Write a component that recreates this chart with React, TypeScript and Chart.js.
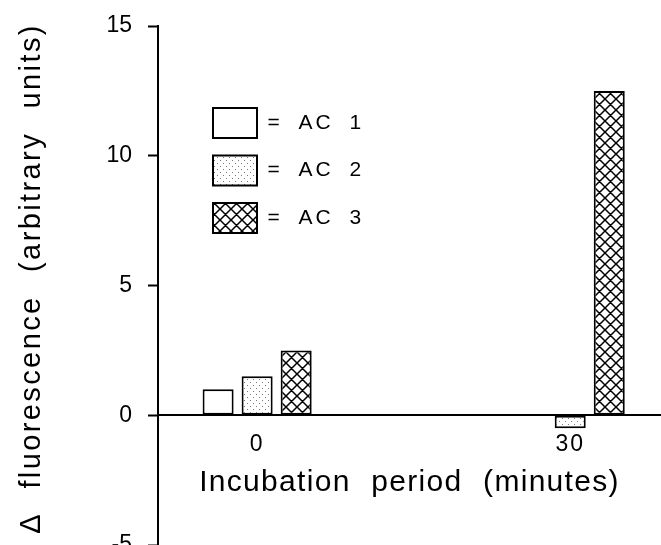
import React, { useEffect, useRef } from 'react';
import { Chart, registerables } from 'chart.js';

Chart.register(...registerables);

// ---- data ----
const categories = [0, 30];
const categoryLabels = ['0', '30'];
const seriesNames = ['AC 1', 'AC 2', 'AC 3'];
const ac1 = [1.0, 0];
const ac2 = [1.5, -0.5];
const ac3 = [2.5, 12.5];
const yTicks = [-5, 0, 5, 10, 15];
const xTitle = 'Incubation period (minutes)';
const yTitle = 'Δ fluorescence (arbitrary units)';

const FONT = "'Liberation Sans', Arial, Helvetica, sans-serif";

function makeDots(): CanvasPattern | string {
  const c = document.createElement('canvas');
  c.width = 6;
  c.height = 6;
  const g = c.getContext('2d');
  if (!g) return '#ddd';
  g.fillStyle = '#ffffff';
  g.fillRect(0, 0, 6, 6);
  g.fillStyle = '#7a7a7a';
  g.fillRect(1, 1, 1, 1);
  g.fillRect(4, 4, 1, 1);
  return g.createPattern(c, 'repeat') || '#ddd';
}

function makeCross(): CanvasPattern | string {
  const s = 11;
  const c = document.createElement('canvas');
  c.width = s;
  c.height = s;
  const g = c.getContext('2d');
  if (!g) return '#888';
  g.fillStyle = '#ffffff';
  g.fillRect(0, 0, s, s);
  g.strokeStyle = '#000000';
  g.lineWidth = 1.5;
  g.beginPath();
  for (const dx of [-s, 0, s]) {
    g.moveTo(dx, 0);
    g.lineTo(dx + s, s);
    g.moveTo(dx + s, 0);
    g.lineTo(dx, s);
  }
  g.stroke();
  return g.createPattern(c, 'repeat') || '#888';
}

const spacingPlugin = {
  id: 'textSpacing',
  afterLayout(chart: any) {
    const lg = chart.legend;
    if (lg) {
      lg.left = chart.chartArea.left + 37.5;
      lg.top = chart.chartArea.top + 64.5;
    }
  },
  beforeDraw(chart: any) {
    const ctx = chart.ctx;
    const wrap = (obj: any, name: string, ls: string, ws: string, dy = 0) => {
      if (!obj || obj['__wrapped_' + name]) return;
      const orig = obj[name].bind(obj);
      obj[name] = (...args: any[]) => {
        ctx.save();
        ctx.letterSpacing = ls;
        ctx.wordSpacing = ws;
        if (dy) ctx.translate(0, dy);
        try {
          orig(...args);
        } finally {
          ctx.restore();
        }
      };
      obj['__wrapped_' + name] = true;
    };
    wrap(chart.scales.y, 'drawTitle', '2.4px', '13px', -7);
    wrap(chart.scales.x, 'drawTitle', '1.3px', '11px');
    wrap(chart.scales.x, 'drawLabels', '2px', '0px');
    wrap(chart.legend, 'draw', '3px', '7px');
  },
};

export default function App() {
  const ref = useRef<HTMLCanvasElement | null>(null);

  useEffect(() => {
    if (!ref.current) return;
    const fills = ['#ffffff', makeDots(), makeCross()];
    const series = [ac1, ac2, ac3];
    const datasets = seriesNames.map((name, i) => ({
      label: name,
      data: categories.map((c, j) => ({ x: c, y: series[i][j] })),
      backgroundColor: fills[i] as any,
      borderColor: '#000000',
      borderWidth: 2,
      borderSkipped: false,
      categoryPercentage: 0.374,
      barPercentage: 0.795,
    }));

    const chart = new Chart(ref.current, {
      type: 'bar',
      data: { datasets: datasets as any },
      plugins: [spacingPlugin as any],
      options: {
        animation: false,
        responsive: false,
        devicePixelRatio: 1,
        events: [],
        layout: { padding: { top: 26, left: 0, right: 0, bottom: -78 } },
        font: { family: FONT },
        plugins: {
          tooltip: { enabled: false },
          title: { display: false },
          legend: {
            display: true,
            position: 'chartArea' as any,
            align: 'start',
            labels: {
              boxWidth: 44,
              boxHeight: 30,
              padding: 17.5,
              color: '#000000',
              font: { family: FONT, size: 21 },
              generateLabels: (c: any) =>
                (Chart.defaults.plugins.legend.labels as any)
                  .generateLabels(c)
                  .map((l: any) => ({ ...l, text: '= ' + l.text })),
            },
          },
        },
        scales: {
          x: {
            type: 'linear',
            position: { y: 0 } as any,
            offset: false,
            min: -9.5,
            max: 38.7,
            afterBuildTicks: (s: any) => {
              s.ticks = categories.map((v) => ({ value: v }));
            },
            afterFit: (s: any) => {
              s.height = 85;
              s.paddingLeft = 0;
              s.paddingRight = 0;
            },
            grid: { display: false, drawTicks: false },
            border: { display: true, color: '#000000', width: 2 },
            ticks: {
              color: '#000000',
              font: { family: FONT, size: 23 },
              padding: 16,
              maxRotation: 0,
              autoSkip: false,
              callback: (v: any) => {
                const k = categories.indexOf(Number(v));
                return k >= 0 ? categoryLabels[k] : '';
              },
            },
            title: {
              display: true,
              text: xTitle,
              color: '#000000',
              font: { family: FONT, size: 30 },
              padding: 0,
            },
          },
          y: {
            type: 'linear',
            min: -5,
            max: 15,
            afterBuildTicks: (s: any) => {
              s.ticks = yTicks.map((v) => ({ value: v }));
            },
            afterFit: (s: any) => {
              s.width = 158;
              s.paddingTop = 0;
              s.paddingBottom = 0;
            },
            grid: {
              display: true,
              drawOnChartArea: false,
              drawTicks: true,
              tickLength: 10,
              tickColor: '#000000',
              tickWidth: 2,
              color: '#000000',
            },
            border: { display: true, color: '#000000', width: 2 },
            ticks: {
              color: '#000000',
              font: { family: FONT, size: 23 },
              padding: 16,
            },
            title: {
              display: true,
              text: yTitle,
              color: '#000000',
              font: { family: FONT, size: 29 },
              padding: { top: 14.5, bottom: 0 },
            },
          },
        },
      } as any,
    });
    return () => chart.destroy();
  }, []);

  return (
    <div style={{ position: 'absolute', left: 0, top: 0, width: 661, height: 545, background: '#fff' }}>
      <canvas ref={ref} width={661} height={545} style={{ display: 'block' }} />
    </div>
  );
}
